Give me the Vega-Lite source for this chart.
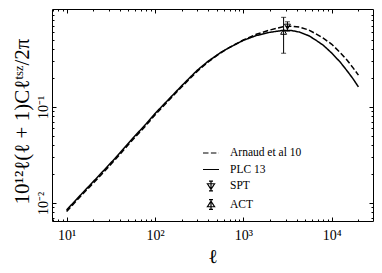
{
  "$schema": "https://vega.github.io/schema/vega-lite/v6.json",
  "width": 321,
  "height": 212,
  "autosize": {"type": "none"},
  "padding": {"left": 52, "top": 9, "right": 9, "bottom": 52},
  "background": "white",
  "config": {
    "view": {"stroke": "black", "strokeWidth": 1},
    "axis": {"grid": false, "domain": false, "tickColor": "black", "labelColor": "black", "titleColor": "black", "labelFont": "Liberation Serif", "titleFont": "Liberation Serif", "titleFontWeight": "normal"},
    "legend": {"labelFont": "Liberation Serif", "labelFontSize": 11.5, "labelColor": "black", "labelOffset": 10, "rowPadding": 1.5, "padding": 0, "symbolSize": 256, "symbolOpacity": 1, "symbolStrokeColor": "black", "symbolStrokeWidth": 1.2, "symbolFillColor": "transparent"}
  },
  "datasets": {
    "curves": [
      {"ell": 10, "D": 0.00845, "series": "PLC 13"},
      {"ell": 15, "D": 0.0126, "series": "PLC 13"},
      {"ell": 23, "D": 0.0191, "series": "PLC 13"},
      {"ell": 35, "D": 0.0289, "series": "PLC 13"},
      {"ell": 56, "D": 0.0472, "series": "PLC 13"},
      {"ell": 80, "D": 0.0672, "series": "PLC 13"},
      {"ell": 100, "D": 0.0854, "series": "PLC 13"},
      {"ell": 150, "D": 0.126, "series": "PLC 13"},
      {"ell": 200, "D": 0.166, "series": "PLC 13"},
      {"ell": 300, "D": 0.241, "series": "PLC 13"},
      {"ell": 400, "D": 0.300, "series": "PLC 13"},
      {"ell": 550, "D": 0.368, "series": "PLC 13"},
      {"ell": 700, "D": 0.418, "series": "PLC 13"},
      {"ell": 1000, "D": 0.495, "series": "PLC 13"},
      {"ell": 1400, "D": 0.555, "series": "PLC 13"},
      {"ell": 2000, "D": 0.600, "series": "PLC 13"},
      {"ell": 2800, "D": 0.628, "series": "PLC 13"},
      {"ell": 3500, "D": 0.626, "series": "PLC 13"},
      {"ell": 4300, "D": 0.603, "series": "PLC 13"},
      {"ell": 5500, "D": 0.552, "series": "PLC 13"},
      {"ell": 6600, "D": 0.497, "series": "PLC 13"},
      {"ell": 8000, "D": 0.440, "series": "PLC 13"},
      {"ell": 10000, "D": 0.364, "series": "PLC 13"},
      {"ell": 12500, "D": 0.292, "series": "PLC 13"},
      {"ell": 15000, "D": 0.236, "series": "PLC 13"},
      {"ell": 17500, "D": 0.195, "series": "PLC 13"},
      {"ell": 20000, "D": 0.162, "series": "PLC 13"},
      {"ell": 10, "D": 0.00817, "series": "Arnaud et al 10"},
      {"ell": 15, "D": 0.0122, "series": "Arnaud et al 10"},
      {"ell": 23, "D": 0.0184, "series": "Arnaud et al 10"},
      {"ell": 35, "D": 0.0279, "series": "Arnaud et al 10"},
      {"ell": 56, "D": 0.0456, "series": "Arnaud et al 10"},
      {"ell": 80, "D": 0.0649, "series": "Arnaud et al 10"},
      {"ell": 100, "D": 0.0826, "series": "Arnaud et al 10"},
      {"ell": 150, "D": 0.1226, "series": "Arnaud et al 10"},
      {"ell": 200, "D": 0.1616, "series": "Arnaud et al 10"},
      {"ell": 300, "D": 0.235, "series": "Arnaud et al 10"},
      {"ell": 400, "D": 0.295, "series": "Arnaud et al 10"},
      {"ell": 550, "D": 0.365, "series": "Arnaud et al 10"},
      {"ell": 700, "D": 0.418, "series": "Arnaud et al 10"},
      {"ell": 1000, "D": 0.499, "series": "Arnaud et al 10"},
      {"ell": 1400, "D": 0.572, "series": "Arnaud et al 10"},
      {"ell": 2000, "D": 0.634, "series": "Arnaud et al 10"},
      {"ell": 2800, "D": 0.684, "series": "Arnaud et al 10"},
      {"ell": 3500, "D": 0.694, "series": "Arnaud et al 10"},
      {"ell": 4300, "D": 0.680, "series": "Arnaud et al 10"},
      {"ell": 5500, "D": 0.634, "series": "Arnaud et al 10"},
      {"ell": 6600, "D": 0.578, "series": "Arnaud et al 10"},
      {"ell": 8000, "D": 0.521, "series": "Arnaud et al 10"},
      {"ell": 10000, "D": 0.450, "series": "Arnaud et al 10"},
      {"ell": 12500, "D": 0.367, "series": "Arnaud et al 10"},
      {"ell": 15000, "D": 0.305, "series": "Arnaud et al 10"},
      {"ell": 17500, "D": 0.254, "series": "Arnaud et al 10"},
      {"ell": 20000, "D": 0.215, "series": "Arnaud et al 10"}
    ],
    "obs": [
      {"ell": 3150, "D": 0.686, "lo": 0.617, "hi": 0.772, "series": "SPT"},
      {"ell": 2850, "D": 0.608, "lo": 0.363, "hi": 0.859, "series": "ACT"}
    ]
  },
  "resolve": {"axis": {"x": "independent", "y": "independent"}},
  "layer": [
    {
      "data": {"name": "curves"},
      "mark": {"type": "line", "color": "black", "strokeWidth": 1.5},
      "encoding": {
        "x": {"field": "ell", "type": "quantitative",
          "scale": {"type": "log", "domain": [6.84, 29240], "nice": false},
          "axis": {"orient": "bottom", "values": [10, 100, 1000, 10000],
            "labelExpr": "datum.value == 10 ? '10¹' : datum.value == 100 ? '10²' : datum.value == 1000 ? '10³' : '10⁴'",
            "tickSize": -4, "labelFontSize": 14, "labelPadding": 11, "labelFlush": false, "labelOverlap": false,
            "title": "ℓ", "titleFontSize": 20, "titleY": 35, "titleBaseline": "middle"}},
        "y": {"field": "D", "type": "quantitative",
          "scale": {"type": "log", "domain": [0.00649, 1.049], "nice": false},
          "axis": {"orient": "left", "values": [0.01, 0.1],
            "labelExpr": "datum.value < 0.05 ? '10⁻²' : '10⁻¹'",
            "labelAngle": -90, "labelAlign": "center", "labelBaseline": "alphabetic",
            "tickSize": -4, "labelFontSize": 14, "labelPadding": 9, "labelFlush": false, "labelOverlap": false,
            "title": "10¹²ℓ(ℓ + 1)Cℓᵗˢᶻ/2π", "titleFontSize": 21, "titleAngle": -90, "titleX": -30, "titleY": 112,
            "titleAlign": "center", "titleBaseline": "middle"}},
        "detail": {"field": "series"},
        "strokeDash": {"field": "series", "type": "nominal",
          "scale": {"domain": ["Arnaud et al 10", "PLC 13", "SPT", "ACT"], "range": [[5.5, 2.4], [1, 0], [1, 0], [1, 0]]},
          "legend": {"title": null, "orient": "none", "legendX": 150, "legendY": 135,
            "labelFont": "Liberation Serif", "labelFontSize": 11.5, "symbolOpacity": 1}}
      }
    },
    {
      "data": {"name": "obs"},
      "mark": {"type": "rule", "color": "black", "strokeWidth": 1},
      "encoding": {
        "x": {"field": "ell", "type": "quantitative",
          "axis": {"orient": "bottom", "values": [7, 8, 9, 20, 30, 40, 50, 60, 70, 80, 90, 200, 300, 400, 500, 600, 700, 800, 900, 2000, 3000, 4000, 5000, 6000, 7000, 8000, 9000, 20000],
            "labels": false, "tickSize": -2, "title": null}},
        "y": {"field": "lo", "type": "quantitative",
          "axis": {"orient": "left", "values": [0.007, 0.008, 0.009, 0.02, 0.03, 0.04, 0.05, 0.06, 0.07, 0.08, 0.09, 0.2, 0.3, 0.4, 0.5, 0.6, 0.7, 0.8, 0.9],
            "labels": false, "tickSize": -2, "title": null}},
        "y2": {"field": "hi"}
      }
    },
    {
      "data": {"name": "obs"},
      "mark": {"type": "tick", "orient": "horizontal", "size": 5, "thickness": 1, "color": "black"},
      "encoding": {
        "x": {"field": "ell", "type": "quantitative",
          "axis": {"orient": "top", "values": [10, 100, 1000, 10000], "labels": false, "tickSize": -4, "title": null}},
        "y": {"field": "hi", "type": "quantitative",
          "axis": {"orient": "right", "values": [0.01, 0.1], "labels": false, "tickSize": -4, "title": null}}
      }
    },
    {
      "data": {"name": "obs"},
      "mark": {"type": "tick", "orient": "horizontal", "size": 5, "thickness": 1, "color": "black"},
      "encoding": {
        "x": {"field": "ell", "type": "quantitative",
          "axis": {"orient": "top", "values": [7, 8, 9, 20, 30, 40, 50, 60, 70, 80, 90, 200, 300, 400, 500, 600, 700, 800, 900, 2000, 3000, 4000, 5000, 6000, 7000, 8000, 9000, 20000],
            "labels": false, "tickSize": -2, "title": null}},
        "y": {"field": "lo", "type": "quantitative",
          "axis": {"orient": "right", "values": [0.007, 0.008, 0.009, 0.02, 0.03, 0.04, 0.05, 0.06, 0.07, 0.08, 0.09, 0.2, 0.3, 0.4, 0.5, 0.6, 0.7, 0.8, 0.9],
            "labels": false, "tickSize": -2, "title": null}}
      }
    },
    {
      "data": {"name": "obs"},
      "transform": [{"filter": "datum.series === 'SPT'"}],
      "mark": {"type": "point", "shape": "triangle-down", "filled": false, "color": "black", "strokeWidth": 1, "size": 35, "opacity": 1},
      "encoding": {
        "x": {"field": "ell", "type": "quantitative", "axis": null},
        "y": {"field": "D", "type": "quantitative", "axis": null}
      }
    },
    {
      "data": {"name": "obs"},
      "transform": [{"filter": "datum.series === 'ACT'"}],
      "mark": {"type": "point", "shape": "triangle-up", "filled": false, "color": "black", "strokeWidth": 1, "size": 35, "opacity": 1},
      "encoding": {
        "x": {"field": "ell", "type": "quantitative", "axis": null},
        "y": {"field": "D", "type": "quantitative", "axis": null}
      }
    },
    {
      "data": {"name": "obs"},
      "mark": {"type": "point", "filled": false, "color": "black", "strokeWidth": 1, "opacity": 0},
      "encoding": {
        "x": {"field": "ell", "type": "quantitative", "axis": null},
        "y": {"field": "D", "type": "quantitative", "axis": null},
        "shape": {"field": "series", "type": "nominal",
          "scale": {"domain": ["Arnaud et al 10", "PLC 13", "SPT", "ACT"],
            "range": ["stroke", "stroke",
              "M0,-0.62L0,0.62M-0.25,-0.62L0.25,-0.62M-0.25,0.62L0.25,0.62M-0.45,-0.28L0.45,-0.28L0,0.42Z",
              "M0,-0.62L0,0.62M-0.25,-0.62L0.25,-0.62M-0.25,0.62L0.25,0.62M-0.45,0.28L0.45,0.28L0,-0.42Z"]},
          "legend": {"title": null, "orient": "none", "legendX": 150, "legendY": 135,
            "labelFont": "Liberation Serif", "labelFontSize": 11.5, "symbolOpacity": 1}}
      }
    }
  ]
}
